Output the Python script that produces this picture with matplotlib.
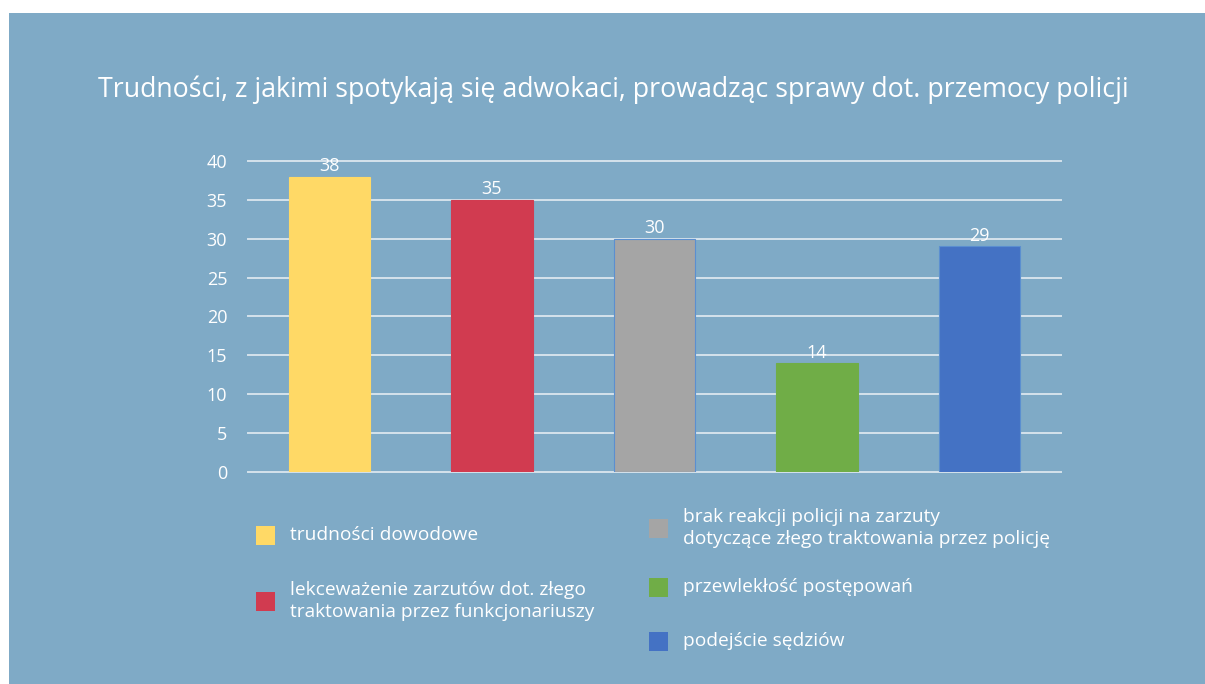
import matplotlib

matplotlib.use("Agg")
import matplotlib.pyplot as plt
from matplotlib.patches import Rectangle

# Data.
title = "Trudności, z jakimi spotykają się adwokaci, prowadząc sprawy dot. przemocy policji"
categories = [
    "trudności dowodowe",
    "lekceważenie zarzutów dot. złego\ntraktowania przez funkcjonariuszy",
    "brak reakcji policji na zarzuty\ndotyczące złego traktowania przez policję",
    "przewlekłość postępowań",
    "podejście sędziów",
]
values = [38, 35, 30, 14, 29]
yticks = [0, 5, 10, 15, 20, 25, 30, 35, 40]

colors = ["#FFD966", "#D13B50", "#A5A5A5", "#70AD47", "#4472C4"]
edges = ["#FFD966", "#D13B50", "#5B8FD0", "#70AD47", "#5B8FD0"]
BG = "#7FAAC6"
FONT = ["Open Sans", "DejaVu Sans"]

plt.rcParams["font.family"] = FONT
plt.rcParams["font.weight"] = "medium"

W, H = 1205, 684
fig = plt.figure(figsize=(W / 100, H / 100), dpi=100, facecolor="white")

# blue panel with a white margin at left and top
fig.patches.append(
    Rectangle((9 / W, 0), 1 - 9 / W, 1 - 13 / H, transform=fig.transFigure,
              facecolor=BG, edgecolor="none", zorder=-5)
)

fig.text(613 / W, 1 - 90 / H, title, ha="center", va="center",
         color="white", fontsize=19.3)

ax = fig.add_axes([248 / W, 1 - 471.7 / H, 813 / W, (471.7 - 161) / H])
ax.set_zorder(2)
ax.set_facecolor("none")
x = range(len(values))
bars = ax.bar(x, values, width=0.5, color=colors, edgecolor=edges, linewidth=0.8, zorder=3)
for rect, v in zip(bars, values):
    ax.annotate(str(v), (rect.get_x() + rect.get_width() / 2, v), xytext=(0, 1),
                textcoords="offset points", ha="center", va="bottom",
                color="white", fontsize=13, zorder=4)

ax.set_xlim(-0.5, len(values) - 0.5)
ax.set_ylim(0, 40)
ax.set_yticks(yticks)
ax.set_xticks([])
ax.grid(axis="y", color="#E4ECF2", linewidth=1.4, alpha=0.85, zorder=1)
for gl in ax.get_ygridlines():
    gl.set_clip_on(False)
for s in ax.spines.values():
    s.set_visible(False)
ax.tick_params(axis="y", length=0, pad=15, labelcolor="white", labelsize=13)

# manual legend in two columns
legend_pos = [
    (256, 535),
    (256, 601),
    (649, 528),
    (649, 587),
    (649, 641),
]
sq = 19
for (lx, ly), label, c in zip(legend_pos, categories, colors):
    fig.patches.append(
        Rectangle((lx / W, 1 - (ly + sq / 2) / H), sq / W, sq / H,
                  transform=fig.transFigure, facecolor=c, edgecolor="none")
    )
    fig.text((lx + 34) / W, 1 - ly / H, label, ha="left", va="center",
             color="white", fontsize=13.8, linespacing=1.3)

fig.savefig("out.png", dpi=100, facecolor=fig.get_facecolor())
